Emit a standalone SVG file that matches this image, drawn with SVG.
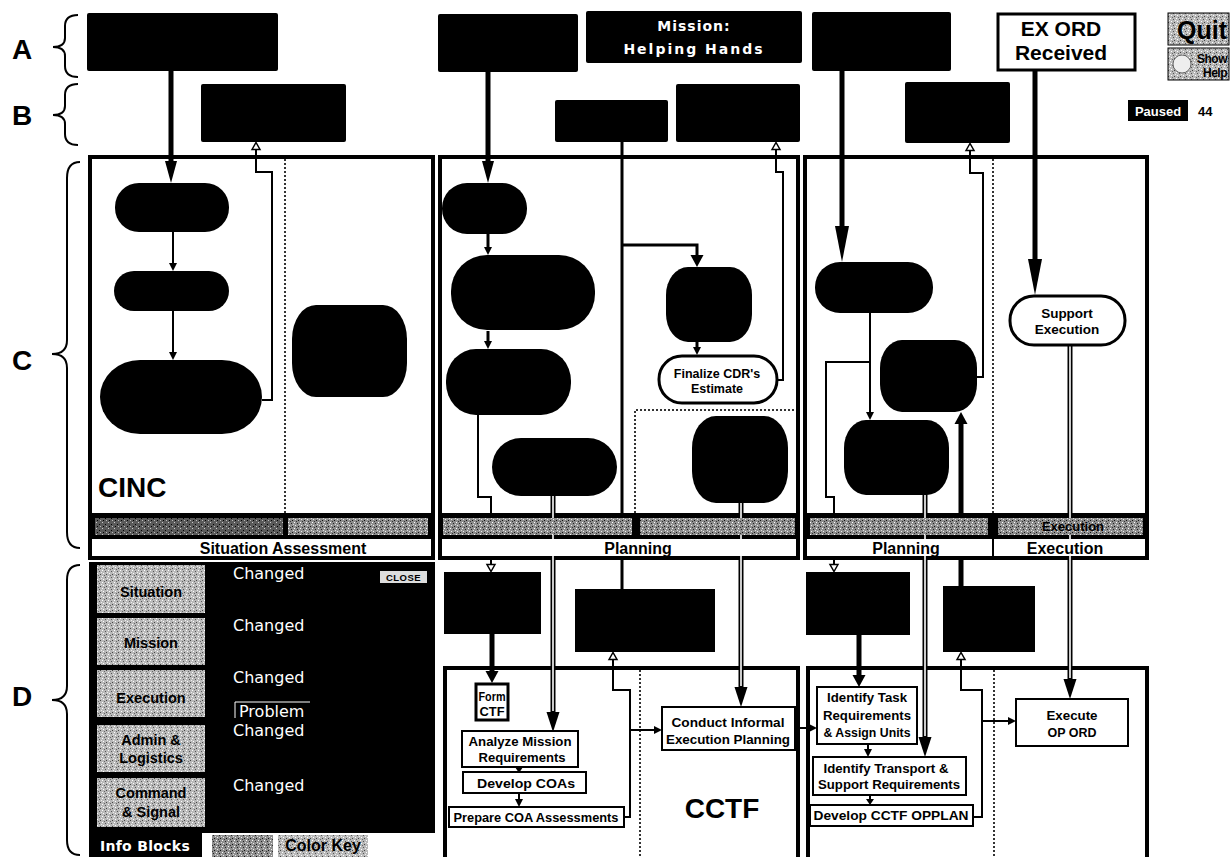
<svg xmlns="http://www.w3.org/2000/svg" width="1230" height="857" viewBox="0 0 1230 857">
<defs>
<style>
.sans{font-family:"Liberation Sans",Arial,sans-serif}
.dv{font-family:"DejaVu Sans",sans-serif}
.b{font-weight:bold}
.ln{fill:none;stroke:#000;stroke-width:2}
.ln3{fill:none;stroke:#000;stroke-width:3}
.thk{fill:none;stroke:#000;stroke-width:5}
.dblo{fill:none;stroke:#000;stroke-width:5}
.dbli{fill:none;stroke:#fff;stroke-width:1.6}
.box{fill:#fff;stroke:#000;stroke-width:2}
.dot{fill:none;stroke:#333;stroke-width:2;stroke-dasharray:2 2}
.brace{fill:none;stroke:#000;stroke-width:2}
.tl{font-family:"Liberation Sans",Arial,sans-serif;font-weight:bold;font-size:12.5px;text-anchor:middle}
.chg{font-family:"DejaVu Sans",sans-serif;font-size:16px;fill:#fff}
.btn{font-family:"Liberation Sans",Arial,sans-serif;font-weight:bold;font-size:14.5px;text-anchor:middle}
.lab{font-family:"Liberation Sans",Arial,sans-serif;font-weight:bold;font-size:16px;text-anchor:middle}
</style>
<pattern id="grain" width="6" height="6" patternUnits="userSpaceOnUse">
<rect width="6" height="6" fill="#8e8e8e"/>
<rect x="0" y="0" width="1" height="1" fill="#fff"/>
<rect x="3" y="1" width="1" height="1" fill="#222"/>
<rect x="1" y="3" width="1" height="1" fill="#eee"/>
<rect x="4" y="4" width="1" height="1" fill="#111"/>
<rect x="5" y="2" width="1" height="1" fill="#ddd"/>
<rect x="2" y="5" width="1" height="1" fill="#333"/>
</pattern>
<pattern id="grainD" width="6" height="6" patternUnits="userSpaceOnUse">
<rect width="6" height="6" fill="#5a5a5a"/>
<rect x="0" y="0" width="1" height="1" fill="#ccc"/>
<rect x="3" y="2" width="1" height="1" fill="#000"/>
<rect x="4" y="4" width="1" height="1" fill="#bbb"/>
<rect x="1" y="4" width="1" height="1" fill="#000"/>
</pattern>
<pattern id="grainL" width="6" height="6" patternUnits="userSpaceOnUse">
<rect width="6" height="6" fill="#b9b9b9"/>
<rect x="0" y="0" width="1" height="1" fill="#fff"/>
<rect x="3" y="1" width="1" height="1" fill="#555"/>
<rect x="1" y="3" width="1" height="1" fill="#fff"/>
<rect x="4" y="4" width="1" height="1" fill="#444"/>
<rect x="5" y="2" width="1" height="1" fill="#eee"/>
<rect x="2" y="5" width="1" height="1" fill="#666"/>
</pattern>
<marker id="ahS" markerUnits="userSpaceOnUse" markerWidth="8" markerHeight="8" viewBox="0 0 8 8" refX="0" refY="4" orient="auto" overflow="visible"><path d="M0,0 L8,4 L0,8 z" fill="#000"/></marker>
<marker id="ahT" markerUnits="userSpaceOnUse" markerWidth="6" markerHeight="8" viewBox="0 0 6 8" refX="0" refY="4" orient="auto" overflow="visible"><path d="M0,0 L6,4 L0,8 z" fill="#000"/></marker>
<marker id="ahM" markerUnits="userSpaceOnUse" markerWidth="12" markerHeight="13" viewBox="0 0 12 13" refX="0" refY="6.5" orient="auto" overflow="visible"><path d="M0,0 L12,6.5 L0,13 z" fill="#000"/></marker>
<marker id="ahL" markerUnits="userSpaceOnUse" markerWidth="22" markerHeight="12" viewBox="0 0 22 12" refX="0" refY="6" orient="auto" overflow="visible"><path d="M0,0 L22,6 L0,12 z" fill="#000"/></marker>
<marker id="ahXL" markerUnits="userSpaceOnUse" markerWidth="36" markerHeight="14" viewBox="0 0 36 14" refX="0" refY="7" orient="auto" overflow="visible"><path d="M0,0 L36,7 L0,14 z" fill="#000"/></marker>
<marker id="ahD" markerUnits="userSpaceOnUse" markerWidth="20" markerHeight="13" viewBox="0 0 20 13" refX="0" refY="6.5" orient="auto" overflow="visible"><path d="M0,0 L20,6.5 L0,13 z" fill="#000"/></marker>
<marker id="ahH" markerUnits="userSpaceOnUse" markerWidth="8" markerHeight="9" viewBox="0 0 8 9" refX="0" refY="4.5" orient="auto" overflow="visible"><path d="M0.5,0.5 L7.5,4.5 L0.5,8.5 z" fill="#fff" stroke="#000" stroke-width="1.5"/></marker>
</defs>

<rect width="1230" height="857" fill="#fff"/>

<g id="row-labels" class="sans b" font-size="28">
<text x="12" y="59">A</text>
<text x="12" y="125">B</text>
<text x="12" y="370">C</text>
<text x="12" y="706">D</text>
<path class="brace" d="M78,15 Q65,15 65,26 L65,38 Q65,47 53,47 Q65,47 65,56 L65,66 Q65,77 78,77"/>
<path class="brace" d="M78,84 Q65,84 65,95 L65,106 Q65,115 53,115 Q65,115 65,124 L65,134 Q65,145 78,145"/>
<path class="brace" d="M80,162 Q67,162 67,178 L67,340 Q67,354 52,354 Q67,354 67,368 L67,532 Q67,548 80,548"/>
<path class="brace" d="M80,565 Q67,565 67,580 L67,686 Q67,700 52,700 Q67,700 67,714 L67,840 Q67,855 80,855"/>
</g>

<g id="panels">
<rect x="88" y="155" width="347" height="405" fill="#000"/>
<rect x="92" y="159" width="339" height="354" fill="#fff"/>
<line x1="285" y1="159" x2="285" y2="513" class="dot"/>
<rect x="438" y="155" width="362" height="405" fill="#000"/>
<rect x="442" y="159" width="354" height="354" fill="#fff"/>
<path class="dot" d="M635,513 V410 H796"/>
<rect x="803" y="155" width="346" height="405" fill="#000"/>
<rect x="807" y="159" width="338" height="354" fill="#fff"/>
<line x1="993" y1="159" x2="993" y2="513" class="dot"/>
<rect x="445" y="668" width="353" height="200" fill="#fff" stroke="#000" stroke-width="4"/>
<line x1="640" y1="670" x2="640" y2="857" class="dot"/>
<rect x="808" y="668" width="339" height="200" fill="#fff" stroke="#000" stroke-width="4"/>
<line x1="994" y1="670" x2="994" y2="857" class="dot"/>
</g>

<g id="connectors">
<path class="thk" d="M171,71 V161" marker-end="url(#ahL)"/>
<path class="ln" d="M173,232 V263" marker-end="url(#ahS)"/>
<path class="ln" d="M173,311 V352" marker-end="url(#ahS)"/>
<path class="ln" d="M262,400 H272 V172 H256 V150" marker-end="url(#ahH)"/>
<path class="thk" d="M488,72 V161" marker-end="url(#ahL)"/>
<path class="ln3" d="M488,234 V247" marker-end="url(#ahS)"/>
<path class="ln3" d="M488,331 V341" marker-end="url(#ahS)"/>
<path class="ln" d="M478,415 V497 H491 V564" marker-end="url(#ahH)"/>
<path class="ln3" d="M622,142 V589" stroke-width="3.5"/>
<path class="ln3" d="M622,245 H697 V255" marker-end="url(#ahM)"/>
<path class="ln3" d="M697,342 V347" marker-end="url(#ahS)"/>
<path class="ln" d="M778,380 H783 V172 H776 V150" marker-end="url(#ahH)"/>
<path class="dblo" d="M553,496 V712" marker-end="url(#ahD)"/>
<path class="dbli" d="M553,496 V711"/>
<path class="dblo" d="M741,503 V687" marker-end="url(#ahD)"/>
<path class="dbli" d="M741,503 V686"/>
<path class="thk" d="M842,71 V226" marker-end="url(#ahXL)"/>
<path class="ln" d="M870,313 V412" marker-end="url(#ahS)"/>
<path class="ln" d="M870,362 H826 V497 H834 V564" marker-end="url(#ahH)"/>
<path class="ln" d="M977,377 H983 V173 H970 V151" marker-end="url(#ahH)"/>
<path class="thk" d="M1035,70 V259" marker-end="url(#ahXL)"/>
<path class="dblo" d="M1070,345 V679" marker-end="url(#ahD)"/>
<path class="dbli" d="M1070,345 V678"/>
<path class="dblo" d="M925,495 V737" marker-end="url(#ahD)"/>
<path class="dbli" d="M925,495 V736"/>
<path class="thk" d="M961,586 V424" stroke-width="4" marker-end="url(#ahM)"/>
<path class="thk" d="M492,634 V671" stroke-width="4" marker-end="url(#ahM)"/>
<path class="ln" d="M519,766 V767" marker-end="url(#ahT)"/>
<path class="ln" d="M519,793 V799" marker-end="url(#ahS)"/>
<path class="ln" d="M624,817 H630 V690 H613 V660" marker-end="url(#ahH)"/>
<path class="ln" d="M630,730 H654" marker-end="url(#ahS)"/>
<path class="ln" d="M795,728 H809" marker-end="url(#ahS)"/>
<path class="thk" d="M859,635 V675" stroke-width="4" marker-end="url(#ahM)"/>
<path class="ln" d="M868,744 V749" marker-end="url(#ahS)"/>
<path class="ln" d="M870,795 V799" marker-end="url(#ahT)"/>
<path class="ln" d="M973,817 H982 V690 H961 V660" marker-end="url(#ahH)"/>
<path class="ln" d="M982,721 H1008" marker-end="url(#ahS)"/>
</g>

<g id="phase-strips">
<rect x="95" y="518" width="188" height="17" fill="url(#grainD)"/>
<rect x="288" y="518" width="140" height="17" fill="url(#grain)"/>
<rect x="92" y="539" width="339" height="17" fill="#fff"/>
<text class="lab" x="283" y="554">Situation Assessment</text>
<rect x="443" y="518" width="189" height="17" fill="url(#grain)"/>
<rect x="640" y="518" width="155" height="17" fill="url(#grain)"/>
<rect x="442" y="539" width="354" height="17" fill="#fff"/>
<text class="lab" x="638" y="554">Planning</text>
<rect x="810" y="518" width="178" height="17" fill="url(#grain)"/>
<rect x="998" y="518" width="145" height="17" fill="url(#grain)"/>
<text class="sans b" x="1073" y="531" font-size="13" text-anchor="middle">Execution</text>
<rect x="807" y="539" width="338" height="17" fill="#fff"/>
<line x1="993" y1="539" x2="993" y2="556" stroke="#000" stroke-width="2"/>
<text class="lab" x="906" y="554">Planning</text>
<text class="lab" x="1065" y="554">Execution</text>
<text class="sans b" x="98" y="497" font-size="28">CINC</text>
<text class="sans b" x="722" y="818" font-size="28" text-anchor="middle">CCTF</text>
</g>

<g id="top-a1"><rect x="87" y="13" width="191" height="58" rx="2" fill="#000"/></g>
<g id="top-a2"><rect x="438" y="14" width="140" height="58" rx="2" fill="#000"/></g>
<g id="mission"><rect x="586" y="11" width="216" height="52" rx="2" fill="#000"/>
<text class="dv b" x="694" y="31" font-size="14" fill="#fff" text-anchor="middle" letter-spacing="1">Mission:</text>
<text class="dv b" x="694" y="54" font-size="14" fill="#fff" text-anchor="middle" letter-spacing="2">Helping Hands</text></g>
<g id="top-a3"><rect x="812" y="12" width="139" height="59" rx="2" fill="#000"/></g>
<g id="exord"><rect x="998" y="14" width="137" height="56" fill="#fff" stroke="#000" stroke-width="3"/>
<text class="sans b" x="1061" y="36" font-size="21" text-anchor="middle">EX ORD</text>
<text class="sans b" x="1061" y="60" font-size="21" text-anchor="middle">Received</text></g>
<g id="quit"><rect x="1168" y="13" width="61" height="32" fill="url(#grainL)" stroke="#000"/>
<text class="sans b" x="1202" y="39" font-size="25" text-anchor="middle">Quit</text></g>
<g id="show-help"><rect x="1168" y="48" width="61" height="32" fill="url(#grainL)" stroke="#000"/>
<circle cx="1182" cy="64" r="9" fill="#eee" stroke="#666"/>
<text class="sans b" x="1227" y="63" font-size="12" text-anchor="end" letter-spacing="-0.5">Show</text>
<text class="sans b" x="1227" y="77" font-size="12" text-anchor="end" letter-spacing="-0.5">Help</text></g>
<g id="paused"><rect x="1128" y="100" width="60" height="21" fill="#000"/>
<text class="sans b" x="1158" y="116" font-size="13" fill="#fff" text-anchor="middle">Paused</text>
<text class="sans b" x="1198" y="116" font-size="13">44</text></g>

<g id="b1"><rect x="201" y="84" width="145" height="58" rx="2" fill="#000"/></g>
<g id="b2"><rect x="555" y="100" width="113" height="42" rx="2" fill="#000"/></g>
<g id="b3"><rect x="676" y="84" width="124" height="58" rx="2" fill="#000"/></g>
<g id="b4"><rect x="905" y="82" width="105" height="61" rx="2" fill="#000"/></g>

<g id="c1-n1"><rect x="115" y="183" width="114" height="49" rx="24" fill="#000"/></g>
<g id="c1-n2"><rect x="114" y="271" width="115" height="40" rx="20" fill="#000"/></g>
<g id="c1-n3"><rect x="100" y="360" width="162" height="74" rx="40" ry="37" fill="#000"/></g>
<g id="c1-n4"><rect x="292" y="305" width="115" height="92" rx="24" ry="34" fill="#000"/></g>
<g id="c2-n1"><rect x="442" y="183" width="85" height="51" rx="25" fill="#000"/></g>
<g id="c2-n2"><rect x="451" y="255" width="144" height="75" rx="36" ry="36" fill="#000"/></g>
<g id="c2-n3"><rect x="446" y="349" width="125" height="66" rx="30" ry="32" fill="#000"/></g>
<g id="c2-n4"><rect x="492" y="438" width="125" height="58" rx="29" fill="#000"/></g>
<g id="c2-n5"><rect x="666" y="267" width="86" height="75" rx="22" ry="28" fill="#000"/></g>
<g id="finalize"><rect x="659" y="356" width="118" height="47" rx="23" fill="#fff" stroke="#000" stroke-width="3"/>
<text class="sans b" x="717" y="378" font-size="12.5" text-anchor="middle">Finalize CDR's</text>
<text class="sans b" x="717" y="393" font-size="12.5" text-anchor="middle">Estimate</text></g>
<g id="c2-n6"><rect x="692" y="416" width="96" height="87" rx="24" ry="32" fill="#000"/></g>
<g id="c3-n1"><rect x="815" y="262" width="118" height="51" rx="25" fill="#000"/></g>
<g id="c3-n2"><rect x="880" y="340" width="97" height="72" rx="22" ry="28" fill="#000"/></g>
<g id="c3-n3"><rect x="844" y="420" width="105" height="75" rx="22" ry="28" fill="#000"/></g>
<g id="support"><rect x="1010" y="296" width="115" height="49" rx="24" fill="#fff" stroke="#000" stroke-width="3"/>
<text class="sans b" x="1067" y="318" font-size="13.5" text-anchor="middle">Support</text>
<text class="sans b" x="1067" y="334" font-size="13.5" text-anchor="middle">Execution</text></g>

<g id="info-panel">
<rect x="89" y="562" width="346" height="271" fill="#000"/>
<rect x="97" y="565" width="108" height="48" fill="url(#grainL)"/>
<text class="btn" x="151" y="597">Situation</text>
<rect x="97" y="618" width="108" height="47" fill="url(#grainL)"/>
<text class="btn" x="151" y="648">Mission</text>
<rect x="97" y="670" width="108" height="47" fill="url(#grainL)"/>
<text class="btn" x="151" y="703">Execution</text>
<rect x="97" y="725" width="108" height="47" fill="url(#grainL)"/>
<text class="btn" x="151" y="745">Admin &amp;</text>
<text class="btn" x="151" y="763">Logistics</text>
<rect x="97" y="778" width="108" height="49" fill="url(#grainL)"/>
<text class="btn" x="151" y="798">Command</text>
<text class="btn" x="151" y="817">&amp; Signal</text>
<text class="chg" x="233" y="579">Changed</text>
<text class="chg" x="233" y="631">Changed</text>
<text class="chg" x="233" y="683">Changed</text>
<path d="M235,718 V702 H310" fill="none" stroke="#fff" stroke-width="1"/>
<text class="chg" x="239" y="717">Problem</text>
<text class="chg" x="233" y="736">Changed</text>
<text class="chg" x="233" y="791">Changed</text>
<rect x="380" y="571" width="47" height="12" fill="#ddd"/>
<text class="sans b" x="403.5" y="581" font-size="9.5" text-anchor="middle" letter-spacing="0.5">CLOSE</text>
<rect x="89" y="833" width="113" height="24" fill="#000"/>
<text class="dv b" x="145" y="851" font-size="14" fill="#fff" text-anchor="middle" letter-spacing="0.3">Info Blocks</text>
<rect x="212" y="835" width="61" height="22" fill="url(#grain)"/>
<rect x="278" y="835" width="90" height="22" fill="url(#grainL)"/>
<text class="sans b" x="323" y="851" font-size="16" text-anchor="middle">Color Key</text>
</g>

<g id="d1"><rect x="444" y="572" width="97" height="62" fill="#000"/></g>
<g id="d2"><rect x="575" y="589" width="140" height="63" fill="#000"/></g>
<g id="d3"><rect x="806" y="572" width="104" height="63" fill="#000"/></g>
<g id="d4"><rect x="943" y="586" width="92" height="66" fill="#000"/></g>

<g id="form-ctf"><rect x="476" y="684" width="32" height="36" fill="#fff" stroke="#000" stroke-width="3"/>
<text class="tl" x="492" y="701" textLength="27" lengthAdjust="spacingAndGlyphs">Form</text>
<text class="tl" x="492" y="716" textLength="25" lengthAdjust="spacingAndGlyphs">CTF</text></g>
<g id="analyze"><rect class="box" x="462" y="731" width="116" height="36"/>
<text class="tl" x="520" y="746" textLength="103" lengthAdjust="spacingAndGlyphs">Analyze Mission</text>
<text class="tl" x="522" y="762" textLength="87" lengthAdjust="spacingAndGlyphs">Requirements</text></g>
<g id="develop-coas"><rect class="box" x="463" y="772" width="123" height="21"/>
<text class="tl" x="526" y="788" textLength="98" lengthAdjust="spacingAndGlyphs">Develop COAs</text></g>
<g id="prepare"><rect class="box" x="449" y="807" width="175" height="20"/>
<text class="tl" x="536" y="822" textLength="165" lengthAdjust="spacingAndGlyphs">Prepare COA Assessments</text></g>
<g id="conduct"><rect class="box" x="662" y="707" width="133" height="43"/>
<text class="tl" x="728" y="727" textLength="113" lengthAdjust="spacingAndGlyphs">Conduct Informal</text>
<text class="tl" x="728" y="744" textLength="124" lengthAdjust="spacingAndGlyphs">Execution Planning</text></g>
<g id="identify-task"><rect class="box" x="817" y="687" width="100" height="57"/>
<text class="tl" x="867" y="702" textLength="80" lengthAdjust="spacingAndGlyphs">Identify Task</text>
<text class="tl" x="867" y="720" textLength="88" lengthAdjust="spacingAndGlyphs">Requirements</text>
<text class="tl" x="867" y="737" textLength="87" lengthAdjust="spacingAndGlyphs">&amp; Assign Units</text></g>
<g id="identify-transport"><rect class="box" x="813" y="757" width="153" height="38"/>
<text class="tl" x="886" y="773" textLength="125" lengthAdjust="spacingAndGlyphs">Identify Transport &amp;</text>
<text class="tl" x="889" y="789" textLength="142" lengthAdjust="spacingAndGlyphs">Support Requirements</text></g>
<g id="develop-opplan"><rect class="box" x="810" y="805" width="163" height="21"/>
<text class="tl" x="891" y="820" textLength="155" lengthAdjust="spacingAndGlyphs">Develop CCTF OPPLAN</text></g>
<g id="execute"><rect class="box" x="1016" y="699" width="112" height="47"/>
<text class="tl" x="1072" y="720" textLength="51" lengthAdjust="spacingAndGlyphs">Execute</text>
<text class="tl" x="1072" y="737" textLength="49" lengthAdjust="spacingAndGlyphs">OP ORD</text></g>
</svg>
